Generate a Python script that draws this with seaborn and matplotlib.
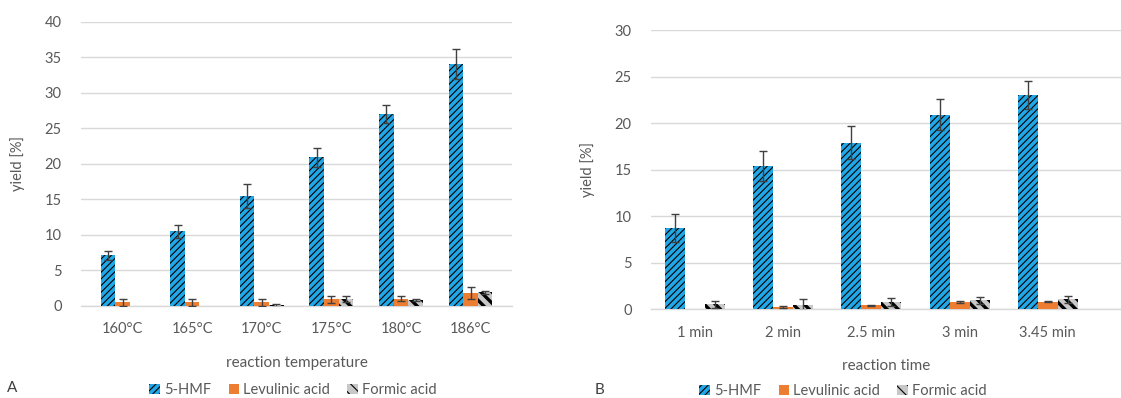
import numpy as np
import pandas as pd
import matplotlib
matplotlib.use("Agg")
import matplotlib.pyplot as plt
import seaborn as sns

# ---------------- data ----------------
compounds = ["5-HMF", "Levulinic acid", "Formic acid"]

temp_labels = ["160°C", "165°C", "170°C", "175°C", "180°C", "186°C"]
temp_hmf = [7.1, 10.5, 15.4, 20.9, 27.0, 34.1]
temp_hmf_err = [0.6, 0.9, 1.7, 1.3, 1.3, 2.1]
temp_lev = [0.5, 0.5, 0.5, 0.9, 1.0, 1.8]
temp_lev_err = [0.5, 0.5, 0.5, 0.5, 0.3, 0.8]
temp_form = [0.0, 0.0, 0.05, 0.9, 0.8, 1.9]
temp_form_err = [0.0, 0.0, 0.25, 0.4, 0.2, 0.2]

time_labels = ["1 min", "2 min", "2.5 min", "3 min", "3.45 min"]
time_hmf = [8.7, 15.4, 17.9, 20.9, 23.0]
time_hmf_err = [1.5, 1.6, 1.8, 1.7, 1.5]
time_lev = [0.0, 0.2, 0.4, 0.75, 0.8]
time_lev_err = [0.0, 0.1, 0.05, 0.1, 0.1]
time_form = [0.5, 0.45, 0.72, 0.93, 1.04]
time_form_err = [0.4, 0.6, 0.45, 0.35, 0.4]

# ---------------- style ----------------
sns.set_theme(style="white")
plt.rcParams['font.family'] = ['Lato', 'DejaVu Sans']
plt.rcParams['hatch.linewidth'] = 0.8

GRAY_TXT = "#595959"
GRID = "#d9d9d9"
colors = {"5-HMF": "#22a7e6", "Levulinic acid": "#ed7d31", "Formic acid": "#c8c8c8"}
hatches = {"5-HMF": "/////", "Levulinic acid": "", "Formic acid": "\\\\\\"}


def make_df(labels, series):
    rows = []
    for comp, vals in zip(compounds, series):
        for lab, v in zip(labels, vals):
            rows.append({"cat": lab, "compound": comp, "value": v})
    return pd.DataFrame(rows)


def draw(ax, labels, series, errs, width, ymax, xlabel, xlim=None):
    df = make_df(labels, series)
    sns.barplot(data=df, x="cat", y="value", hue="compound", order=labels,
                hue_order=compounds, palette=colors, width=width,
                errorbar=None, ax=ax, legend=False, zorder=3, saturation=1)
    for cont, comp, err in zip(ax.containers, compounds, errs):
        xs, ys, es = [], [], []
        for bar, e in zip(cont.patches, err):
            bar.set_edgecolor("black")
            bar.set_linewidth(0)
            bar.set_hatch(hatches[comp])
            if comp == "Formic acid":
                try:
                    bar.set_hatch_linewidth(2.4)
                except Exception:
                    pass
            if e > 0:
                xs.append(bar.get_x() + bar.get_width() / 2)
                ys.append(bar.get_height())
                es.append(e)
        if xs:
            ax.errorbar(xs, ys, yerr=es, fmt="none", ecolor="#404040",
                        elinewidth=1.0, capsize=3, capthick=1.0, zorder=4)
    ax.set_ylim(0, ymax)
    if xlim is not None:
        ax.set_xlim(*xlim)
    ax.set_yticks(np.arange(0, ymax + 0.1, 5))
    ax.yaxis.grid(True, color=GRID, linewidth=1.0, zorder=0)
    ax.set_axisbelow(True)
    for s in ["top", "right", "left"]:
        ax.spines[s].set_visible(False)
    ax.spines["bottom"].set_color(GRID)
    ax.spines["bottom"].set_linewidth(1.0)
    ax.tick_params(axis="both", length=0, labelsize=10.5, colors=GRAY_TXT)
    ax.tick_params(axis="x", pad=12)
    ax.tick_params(axis="y", pad=14)
    ax.set_xlabel(xlabel, fontsize=11, color=GRAY_TXT, labelpad=14)
    ax.set_ylabel("yield [%]", fontsize=10.5, color=GRAY_TXT, labelpad=14)


fig = plt.figure(figsize=(11.21, 3.98), dpi=100)
axA = fig.add_axes([0.0723, 0.232, 0.3845, 0.713])
axB = fig.add_axes([0.5807, 0.2236, 0.4193, 0.701])

draw(axA, temp_labels, [temp_hmf, temp_lev, temp_form],
     [temp_hmf_err, temp_lev_err, temp_form_err], 0.63, 40,
     "reaction temperature")
draw(axB, time_labels, [time_hmf, time_lev, time_form],
     [time_hmf_err, time_lev_err, time_form_err], 0.68, 30,
     "reaction time", xlim=(-0.5, 4.83))

# legends
from matplotlib.patches import Patch
for ax, xc, yc in [(axA, 293 / 1121, 1 - 390 / 398), (axB, 843 / 1121, 1 - 391 / 398)]:
    handles = []
    for comp in compounds:
        p = Patch(facecolor=colors[comp], edgecolor="black", linewidth=0,
                  hatch=hatches[comp], label=comp)
        handles.append(p)
    fig.legend(handles=handles, loc="center", bbox_to_anchor=(xc, yc),
               ncol=3, frameon=False, fontsize=10.5, labelcolor=GRAY_TXT,
               handlelength=0.7, handleheight=0.7, handletextpad=0.3,
               columnspacing=1.2)

fig.text(12 / 1121, 1 - 388 / 398, "A", fontsize=11, color="#404040",
         ha="center", va="center")
fig.text(600 / 1121, 1 - 390 / 398, "B", fontsize=11, color="#404040",
         ha="center", va="center")

fig.savefig("out.png", dpi=100)
